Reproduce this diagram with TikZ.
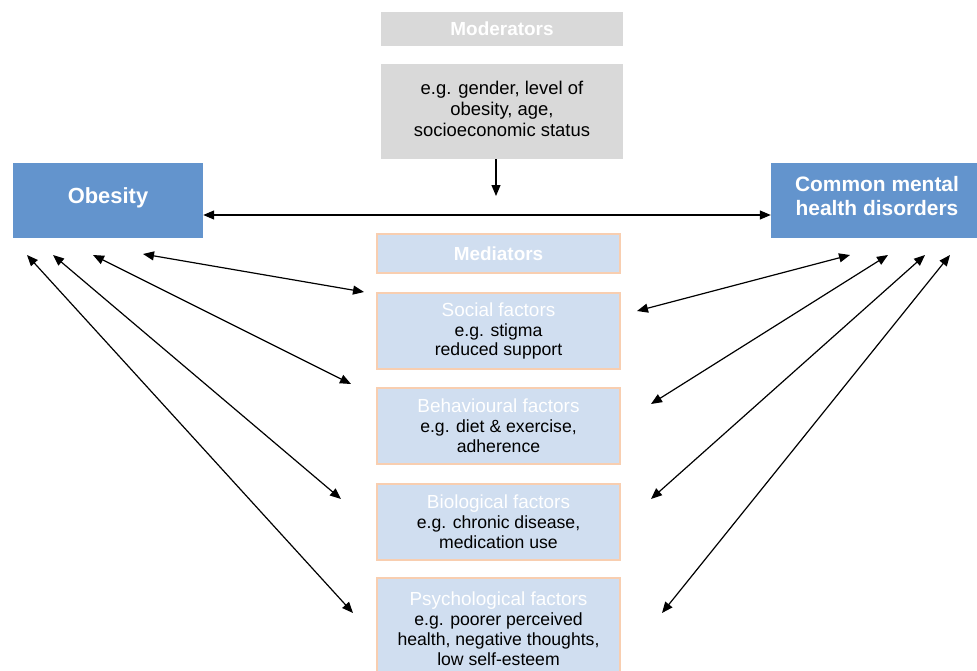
\documentclass[tikz,border=0pt]{standalone}
\usepackage{fontspec}
\setmainfont{Liberation Sans}
\usetikzlibrary{arrows.meta}
\definecolor{mainblue}{RGB}{99,148,205}
\definecolor{lightblue}{RGB}{208,222,240}
\definecolor{peach}{RGB}{248,206,176}
\definecolor{boxgray}{RGB}{217,217,217}
\newcommand{\medtitle}[1]{{\fontsize{19}{20}\selectfont\textcolor{white}{#1}}}
\tikzset{
  arr/.style={line width=1.2bp, -{Triangle[length=11bp,width=9bp]}},
  dblarr/.style={line width=1.2bp, {Triangle[length=11bp,width=9bp]}-{Triangle[length=11bp,width=9bp]}},
  bluebox/.style={rectangle, fill=mainblue, draw=none, text=white, align=center, inner sep=0pt},
  graybox/.style={rectangle, fill=boxgray, draw=none, align=center, inner sep=0pt,
    font=\fontsize{18.5}{21}\selectfont},
  medbox/.style={rectangle, fill=lightblue, draw=peach, line width=1.2bp, align=center, inner sep=0pt,
    minimum width=243bp, font=\fontsize{17.7}{20}\selectfont},
  hdr/.style={text=white, font=\fontsize{19}{20}\selectfont\bfseries}
}
\begin{document}
\begin{tikzpicture}[x=1bp,y=-1bp]
\useasboundingbox (0,0) rectangle (977,671);
% Moderators
\node[graybox, hdr, minimum width=242bp, minimum height=34bp] (modhdr) at (502,29) {Moderators};
\node[graybox, minimum width=242bp, minimum height=95bp] (modbody) at (502,111.5) {};
\node[align=center, inner sep=0pt, font=\fontsize{18.5}{21}\selectfont] (modtext) at (502,108.5)
  {e.g. gender, level of\\ obesity, age,\\ socioeconomic status};
% Main boxes
\node[bluebox, minimum width=190bp, minimum height=75bp, font=\fontsize{22}{25}\selectfont\bfseries] (obesity) at (108,200.5) {};
\node[text=white, inner sep=0pt, font=\fontsize{22}{25}\selectfont\bfseries] (obesitytext) at (108,197.5) {Obesity};
\node[bluebox, minimum width=206bp, minimum height=75bp] (cmhd) at (874,200.5) {};
\node[text=white, align=center, inner sep=0pt, font=\fontsize{21}{25}\selectfont\bfseries] (cmhdtext) at (877,196)
  {Common mental\\ health disorders};
% Mediators
\node[medbox, hdr, minimum height=39bp] (medhdr) at (498.5,253.5) {Mediators};
\node[medbox, minimum height=76bp] (social) at (498.5,331)
  {\medtitle{Social factors}\\ e.g. stigma\\ reduced support};
\node[medbox, minimum height=76bp] (behav) at (498.5,426)
  {\medtitle{Behavioural factors}\\ e.g. diet \& exercise,\\ adherence};
\node[medbox, minimum height=76bp] (bio) at (498.5,522)
  {\medtitle{Biological factors}\\ e.g. chronic disease,\\ medication use};
\node[medbox, minimum height=102bp] (psych) at (498.5,629)
  {\medtitle{Psychological factors}\\ e.g. poorer perceived\\ health, negative thoughts,\\ low self-esteem};
% Coordinates
\coordinate (modtip) at (496,196);
\coordinate (oL1) at (143,254);
\coordinate (oL2) at (93,255);
\coordinate (oL3) at (53,255);
\coordinate (oL4) at (27,255);
\coordinate (mL1) at (364,292);
\coordinate (mL2) at (351,384);
\coordinate (mL3) at (341,499);
\coordinate (mL4) at (353,613);
\coordinate (cR1) at (850,255);
\coordinate (cR2) at (888,255);
\coordinate (cR3) at (925,255);
\coordinate (cR4) at (950,255);
\coordinate (mR1) at (637,311);
\coordinate (mR2) at (651,404);
\coordinate (mR3) at (651,499);
\coordinate (mR4) at (662,613);
% Connectors
\draw[arr] (modbody.south -| modtip) -- (modtip);
\draw[dblarr] (obesity.east |- 0,215) -- (cmhd.west |- 0,215);
\draw[dblarr] (oL1) -- (mL1);
\draw[dblarr] (oL2) -- (mL2);
\draw[dblarr] (oL3) -- (mL3);
\draw[dblarr] (oL4) -- (mL4);
\draw[dblarr] (cR1) -- (mR1);
\draw[dblarr] (cR2) -- (mR2);
\draw[dblarr] (cR3) -- (mR3);
\draw[dblarr] (cR4) -- (mR4);
\end{tikzpicture}
\end{document}
